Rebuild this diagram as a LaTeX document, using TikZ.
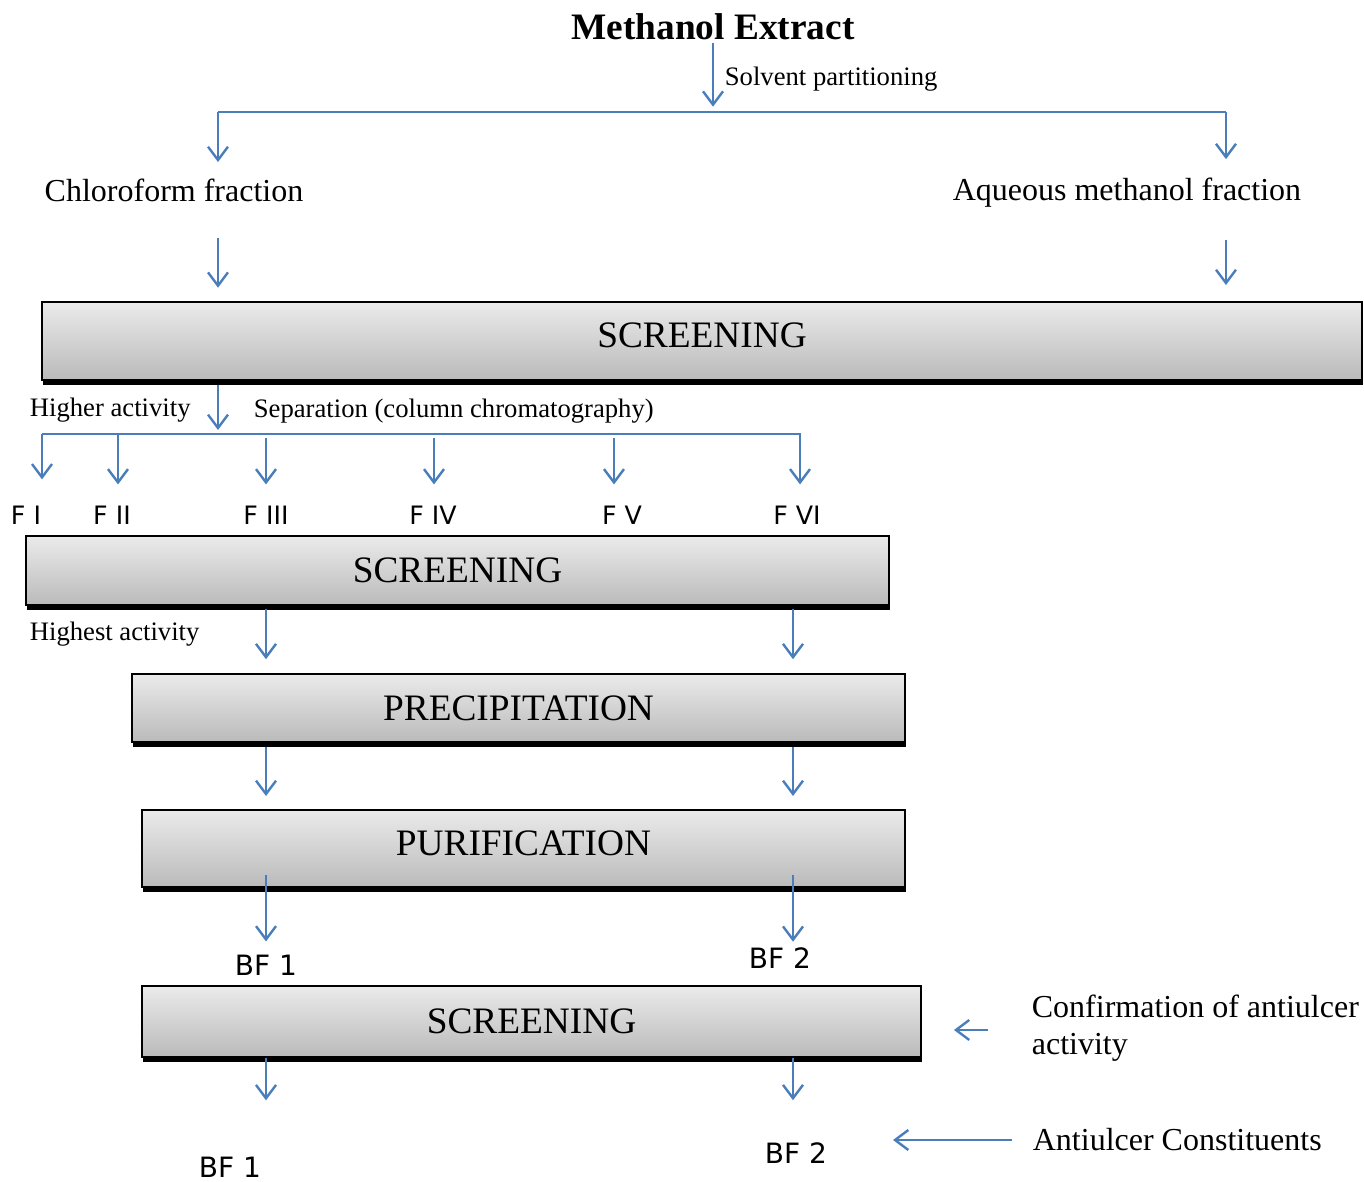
\documentclass[tikz,border=0pt]{standalone}
\usepackage{fontspec}
\setmainfont{Liberation Serif}
\newfontfamily\labelfont{DejaVu Sans}
\usetikzlibrary{arrows.meta,shadows}
\definecolor{linkblue}{HTML}{4A7EBB}
\tikzset{
  arr/.style={draw=linkblue, line width=0.9pt, -{Straight Barb[length=5pt,width=7.5pt]}},
  link/.style={draw=linkblue, line width=0.9pt},
  stage/.style={draw=black, line width=0.7pt, top color=black!8, bottom color=black!27,
    inner sep=0pt, font=\fontsize{14}{16}\selectfont,
    drop shadow={shadow xshift=0.3pt, shadow yshift=-1.7pt, fill=black, opacity=1}},
  txt/.style={inner sep=2pt},
  note/.style={txt, font=\fontsize{10}{12}\selectfont},
  big/.style={txt, font=\fontsize{12}{13.9}\selectfont},
  frac/.style={txt, font=\labelfont\fontsize{9.5}{11}\selectfont},
  bf/.style={txt, font=\labelfont\fontsize{10.5}{12}\selectfont}
}
\begin{document}
\begin{tikzpicture}[x=0.375pt,y=-0.375pt]
  \useasboundingbox (0,0) rectangle (1364,1182);

  % extract and partitioning
  \node[inner sep=1pt, font=\bfseries\fontsize{14}{16}\selectfont] (meth) at (713,27) {Methanol Extract};
  \node[note, anchor=west] (solv) at (719,79) {Solvent partitioning};
  \node[big] (chl) at (174,190) {Chloroform fraction};
  \node[big] (aq) at (1127,193) {Aqueous methanol fraction};

  \coordinate (split) at (713,112);
  \coordinate (lsplit) at (218,112);
  \coordinate (rsplit) at (1226,112);
  \draw[arr, shorten >=2pt] (meth.south) -- (split);
  \draw[link] (lsplit) -- (rsplit);
  \draw[arr, shorten >=4pt] (lsplit) -- (lsplit |- chl.north);
  \draw[arr, shorten >=5pt] (rsplit) -- (rsplit |- aq.north);

  % stages
  \node[stage, text depth=4.5pt, minimum width=1320*0.375pt, minimum height=78*0.375pt] (scrA) at (702,341) {SCREENING};
  \node[stage, minimum width=863*0.375pt, minimum height=69*0.375pt] (scrB) at (457.5,570.5) {SCREENING};
  \node[stage, minimum width=773*0.375pt, minimum height=68*0.375pt] (prec) at (518.5,708) {PRECIPITATION};
  \node[stage, text depth=3.7pt, minimum width=763*0.375pt, minimum height=77*0.375pt] (puri) at (523.5,848.5) {PURIFICATION};
  \node[stage, minimum width=779*0.375pt, minimum height=71*0.375pt] (scrC) at (531.5,1021.5) {SCREENING};

  \draw[arr, shorten <=11.6pt, shorten >=5pt] (chl.south -| lsplit) -- (scrA.north -| lsplit);
  \draw[arr, shorten <=9.9pt, shorten >=6pt] (aq.south -| rsplit) -- (scrA.north -| rsplit);

  % column chromatography
  \node[note, anchor=west] (higher) at (24,410) {Higher activity};
  \node[note, anchor=west] (sep) at (248,411) {Separation (column chromatography)};
  \coordinate (fsplit) at (218,434);
  \coordinate (fl) at (42,434);
  \coordinate (fr) at (801,434);
  \draw[arr, shorten <=1.5pt, shorten >=1.5pt] (scrA.south -| lsplit) -- (fsplit);
  \draw[link] (fl) -- (fr);
  \foreach \n/\lx/\ax/\ay/\gap/\lab in {fI/26/42/434/7.7pt/F I, fII/112/118/434/5.8pt/F II,
      fIII/266/266/438/5.8pt/F III, fIV/433/434/438/5.8pt/F IV,
      fV/622/614/438/5.8pt/F V, fVI/797/800/434/5.8pt/F VI}{
    \node[frac] (\n) at (\lx,515) {\lab};
    \coordinate (t\n) at (\ax,\ay);
    \draw[arr, shorten >=\gap] (t\n) -- (t\n |- \n.north);
  }

  \node[note, anchor=west] (highest) at (24,634) {Highest activity};

  % two columns down to the constituents
  \coordinate (colL) at (266,0);
  \coordinate (colR) at (793,0);
  \foreach \c in {colL,colR}{
    \draw[arr, shorten <=1.2pt, shorten >=5.2pt] (scrB.south -| \c) -- (prec.north -| \c);
    \draw[arr, shorten <=1.5pt, shorten >=4.9pt] (prec.south -| \c) -- (puri.north -| \c);
  }
  \node[bf] (bfa) at (266,965) {BF 1};
  \node[bf] (bfb) at (780,958) {BF 2};
  \draw[arr, shorten <=-4.9pt, shorten >=2.8pt] (puri.south -| colL) -- (bfa.north -| colL);
  \draw[arr, shorten <=-4.9pt] (puri.south -| colR) -- (bfb.north -| colR);

  \node[bf] (bfc) at (230,1167) {BF 1};
  \node[bf] (bfd) at (796,1153) {BF 2};
  \draw[arr, shorten >=19pt] (scrC.south -| colL) -- (bfc.north -| colL);
  \draw[arr, shorten >=13.7pt] (scrC.south -| colR) -- (bfd.north -| colR);

  % side notes
  \node[big, anchor=west, align=left] (conf) at (1026,1028) {Confirmation of antiulcer\\activity};
  \node[big, anchor=west] (anti) at (1027,1140) {Antiulcer Constituents};
  \coordinate (confTail) at (988,1030);
  \coordinate (antiTip) at (893,1140);
  \draw[arr, shorten >=12pt] (confTail) -- (scrC.east |- confTail);
  \draw[arr, shorten <=5.6pt] (anti.west) -- (antiTip);
\end{tikzpicture}
\end{document}
